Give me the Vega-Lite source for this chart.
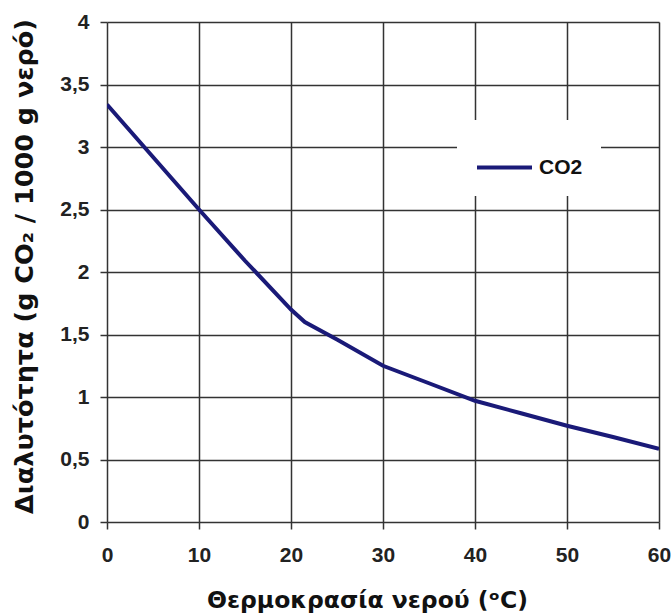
{
  "$schema": "https://vega.github.io/schema/vega-lite/v6.json",
  "autosize": "none",
  "width": 552,
  "height": 500,
  "padding": {"left": 107, "top": 22, "right": 13, "bottom": 91},
  "background": "white",
  "config": {"view": {"stroke": null}},
  "data": {
    "values": [
      {"t": 0, "s": 3.34, "series": "CO2"},
      {"t": 5, "s": 2.92, "series": "CO2"},
      {"t": 10, "s": 2.50, "series": "CO2"},
      {"t": 15, "s": 2.09, "series": "CO2"},
      {"t": 20, "s": 1.70, "series": "CO2"},
      {"t": 21.5, "s": 1.60, "series": "CO2"},
      {"t": 25, "s": 1.46, "series": "CO2"},
      {"t": 30, "s": 1.25, "series": "CO2"},
      {"t": 35, "s": 1.11, "series": "CO2"},
      {"t": 40, "s": 0.97, "series": "CO2"},
      {"t": 45, "s": 0.87, "series": "CO2"},
      {"t": 50, "s": 0.77, "series": "CO2"},
      {"t": 55, "s": 0.68, "series": "CO2"},
      {"t": 60, "s": 0.585, "series": "CO2"}
    ]
  },
  "mark": {"type": "line", "strokeWidth": 4, "clip": true},
  "encoding": {
    "x": {
      "field": "t",
      "type": "quantitative",
      "scale": {"domain": [0, 60], "nice": false},
      "axis": {
        "values": [0, 10, 20, 30, 40, 50, 60],
        "domain": false,
        "grid": true,
        "gridColor": "#333333",
        "gridWidth": 1.5,
        "gridOpacity": 1,
        "ticks": true,
        "tickColor": "#333333",
        "tickWidth": 1.5,
        "tickSize": 7,
        "labelFont": "Liberation Sans",
        "labelFontWeight": "bold",
        "labelFontSize": 21,
        "labelColor": "#222222",
        "labelPadding": 15,
        "labelFlush": false,
        "title": "Θερμοκρασία νερού (ᵒC)",
        "titleFont": "DejaVu Sans",
        "titleFontWeight": "bold",
        "titleFontSize": 23.5,
        "titleColor": "#111111",
        "titleX": 260,
        "titleY": 85,
        "titleBaseline": "alphabetic"
      }
    },
    "y": {
      "field": "s",
      "type": "quantitative",
      "scale": {"domain": [0, 4], "nice": false},
      "axis": {
        "values": [0, 0.5, 1, 1.5, 2, 2.5, 3, 3.5, 4],
        "labelExpr": "replace(format(datum.value, '.1~f'), '.', ',')",
        "domain": false,
        "grid": true,
        "gridColor": "#333333",
        "gridWidth": 1.5,
        "gridOpacity": 1,
        "ticks": true,
        "tickColor": "#333333",
        "tickWidth": 1.5,
        "tickSize": 7,
        "labelFont": "Liberation Sans",
        "labelFontWeight": "bold",
        "labelFontSize": 21,
        "labelColor": "#222222",
        "labelPadding": 11,
        "labelFlush": false,
        "title": "Διαλυτότητα (g CO₂ / 1000 g νερό)",
        "titleFont": "DejaVu Sans",
        "titleFontWeight": "bold",
        "titleFontSize": 25.5,
        "titleColor": "#111111",
        "titleAngle": 270,
        "titleX": -83,
        "titleY": 244,
        "titleBaseline": "middle",
        "titleAlign": "center"
      }
    },
    "color": {
      "field": "series",
      "type": "nominal",
      "scale": {"range": ["#1a1a78"]},
      "legend": {
        "title": null,
        "orient": "none",
        "legendX": 350,
        "legendY": 98,
        "fillColor": "white",
        "padding": 18,
        "symbolType": "stroke",
        "symbolSize": 3025,
        "symbolStrokeWidth": 4,
        "labelFont": "Liberation Sans",
        "labelFontWeight": "bold",
        "labelFontSize": 21,
        "labelColor": "#111111",
        "labelOffset": 5
      }
    }
  }
}
